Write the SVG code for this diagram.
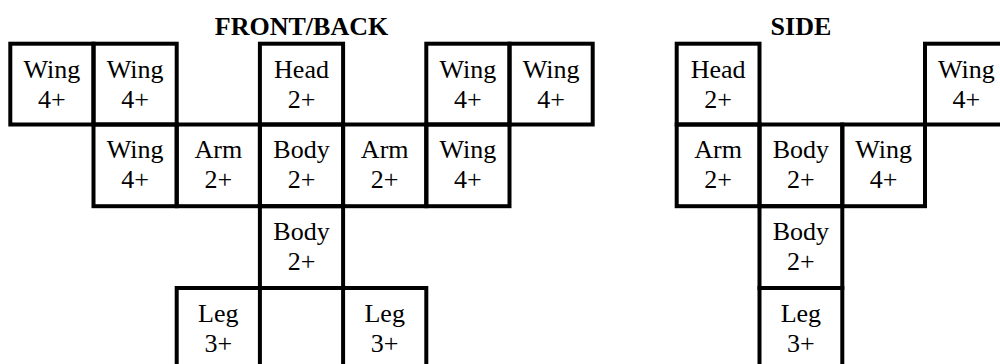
<svg xmlns="http://www.w3.org/2000/svg" width="1000" height="364" viewBox="0 0 1000 364">
<style>
.c{fill:none;stroke:#000;stroke-width:4}
.t{font-size:26px;fill:#000;text-anchor:middle}
.h{font-size:26px;font-weight:bold;fill:#000;text-anchor:middle}
</style>
<rect width="1000" height="364" fill="#fff"/>
<g font-family="'Liberation Serif', 'Times New Roman', Times, serif">
<text class="h" x="301.5" y="35">FRONT/BACK</text>
<text class="h" x="800.9" y="35">SIDE</text>
<g id="front-back">
<g id="fb-wing-1"><rect class="c" x="10.3" y="43.7" width="83.2" height="80.8"/><text class="t" x="51.9" y="77.5"><tspan>Wing</tspan><tspan x="51.9" dy="30">4+</tspan></text></g>
<g id="fb-wing-2"><rect class="c" x="93.5" y="43.7" width="83.2" height="80.8"/><text class="t" x="135.1" y="77.5"><tspan>Wing</tspan><tspan x="135.1" dy="30">4+</tspan></text></g>
<g id="fb-head"><rect class="c" x="259.9" y="43.7" width="83.2" height="80.8"/><text class="t" x="301.5" y="77.5"><tspan>Head</tspan><tspan x="301.5" dy="30">2+</tspan></text></g>
<g id="fb-wing-3"><rect class="c" x="426.3" y="43.7" width="83.2" height="80.8"/><text class="t" x="467.9" y="77.5"><tspan>Wing</tspan><tspan x="467.9" dy="30">4+</tspan></text></g>
<g id="fb-wing-4"><rect class="c" x="509.5" y="43.7" width="83.2" height="80.8"/><text class="t" x="551.1" y="77.5"><tspan>Wing</tspan><tspan x="551.1" dy="30">4+</tspan></text></g>
<g id="fb-wing-5"><rect class="c" x="93.5" y="124.5" width="83.2" height="81.7"/><text class="t" x="135.1" y="158.3"><tspan>Wing</tspan><tspan x="135.1" dy="30">4+</tspan></text></g>
<g id="fb-arm-1"><rect class="c" x="176.7" y="124.5" width="83.2" height="81.7"/><text class="t" x="218.3" y="158.3"><tspan>Arm</tspan><tspan x="218.3" dy="30">2+</tspan></text></g>
<g id="fb-body-1"><rect class="c" x="259.9" y="124.5" width="83.2" height="81.7"/><text class="t" x="301.5" y="158.3"><tspan>Body</tspan><tspan x="301.5" dy="30">2+</tspan></text></g>
<g id="fb-arm-2"><rect class="c" x="343.1" y="124.5" width="83.2" height="81.7"/><text class="t" x="384.7" y="158.3"><tspan>Arm</tspan><tspan x="384.7" dy="30">2+</tspan></text></g>
<g id="fb-wing-6"><rect class="c" x="426.3" y="124.5" width="83.2" height="81.7"/><text class="t" x="467.9" y="158.3"><tspan>Wing</tspan><tspan x="467.9" dy="30">4+</tspan></text></g>
<g id="fb-body-2"><rect class="c" x="259.9" y="206.2" width="83.2" height="81.8"/><text class="t" x="301.5" y="240"><tspan>Body</tspan><tspan x="301.5" dy="30">2+</tspan></text></g>
<g id="fb-leg-1"><rect class="c" x="176.7" y="288" width="83.2" height="82"/><text class="t" x="218.3" y="321.8"><tspan>Leg</tspan><tspan x="218.3" dy="30">3+</tspan></text></g>
<g id="fb-leg-2"><rect class="c" x="343.1" y="288" width="83.2" height="82"/><text class="t" x="384.7" y="321.8"><tspan>Leg</tspan><tspan x="384.7" dy="30">3+</tspan></text></g>
</g>
<g id="side">
<g id="s-head"><rect class="c" x="676.7" y="43.7" width="82.8" height="80.8"/><text class="t" x="718.1" y="77.5"><tspan>Head</tspan><tspan x="718.1" dy="30">2+</tspan></text></g>
<g id="s-wing-1"><rect class="c" x="925" y="43.7" width="82.8" height="80.8"/><text class="t" x="966.4" y="77.5"><tspan>Wing</tspan><tspan x="966.4" dy="30">4+</tspan></text></g>
<g id="s-arm"><rect class="c" x="676.7" y="124.5" width="82.8" height="81.7"/><text class="t" x="718.1" y="158.3"><tspan>Arm</tspan><tspan x="718.1" dy="30">2+</tspan></text></g>
<g id="s-body-1"><rect class="c" x="759.5" y="124.5" width="82.8" height="81.7"/><text class="t" x="800.9" y="158.3"><tspan>Body</tspan><tspan x="800.9" dy="30">2+</tspan></text></g>
<g id="s-wing-2"><rect class="c" x="842.3" y="124.5" width="82.7" height="81.7"/><text class="t" x="883.7" y="158.3"><tspan>Wing</tspan><tspan x="883.7" dy="30">4+</tspan></text></g>
<g id="s-body-2"><rect class="c" x="759.5" y="206.2" width="82.8" height="81.8"/><text class="t" x="800.9" y="240"><tspan>Body</tspan><tspan x="800.9" dy="30">2+</tspan></text></g>
<g id="s-leg"><rect class="c" x="759.5" y="288" width="82.8" height="82"/><text class="t" x="800.9" y="321.8"><tspan>Leg</tspan><tspan x="800.9" dy="30">3+</tspan></text></g>
</g>
</g>
</svg>
